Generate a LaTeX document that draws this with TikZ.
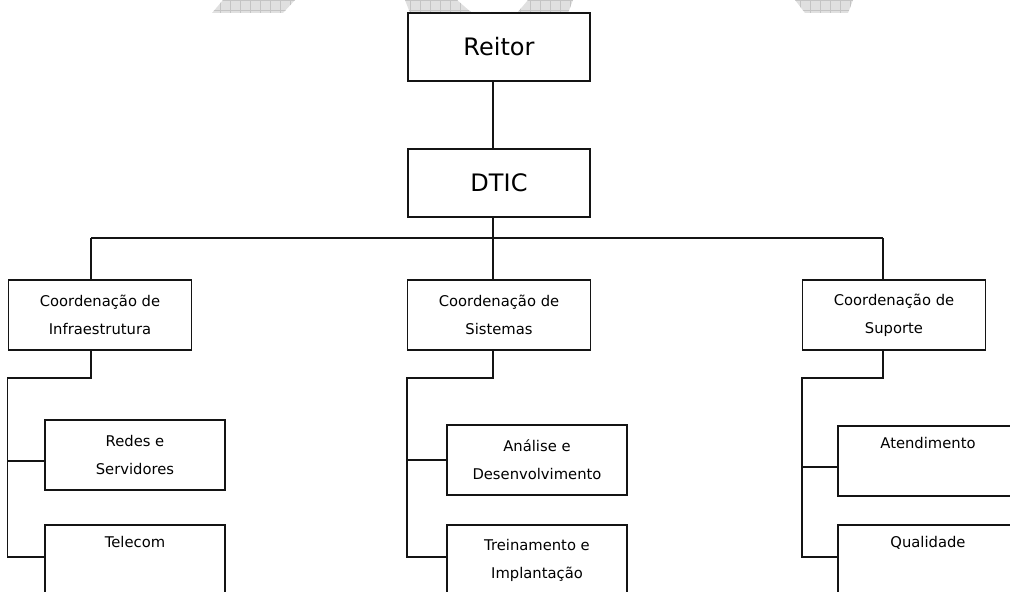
\documentclass[tikz,border=0pt]{standalone}
\usepackage{fontspec}
\setmainfont{DejaVu Sans}
\usepackage{tikz}
\usetikzlibrary{positioning, calc}
\definecolor{mydark}{RGB}{20,20,20}
\definecolor{mywater}{RGB}{224,224,224}
\definecolor{mygrid}{RGB}{196,196,196}
\tikzset{
  topbox/.style={rectangle, draw=mydark, line width=1.3pt, fill=white, minimum width=5.46cm, minimum height=2.04cm, inner sep=0pt, font=\fontsize{20.5}{24}\selectfont},
  coordbox/.style={rectangle, draw=mydark, line width=1.3pt, fill=white, minimum width=5.49cm, minimum height=2.1cm, inner sep=0pt, align=center, font=\fontsize{12.6}{24}\selectfont},
  leafbox/.style={coordbox, minimum width=5.4cm},
  line/.style={line width=1.3pt, color=mydark}
}

\begin{document}
\begin{tikzpicture}[x=0.03cm, y=-0.03cm]
  \useasboundingbox (0,0) rectangle (1010,592);
  \clip (0,0) rectangle (1010,592);

  % watermark bits at the top edge
  \begin{scope}
    \clip (212,13) -- (223,0) -- (295,0) -- (283,13) -- cycle
          (405,0) -- (457,0) -- (472,13) -- (410,13) -- cycle
          (528,0) -- (573,0) -- (568,13) -- (517,13) -- cycle
          (795,0) -- (853,0) -- (848,13) -- (805,13) -- cycle;
    \fill[mywater] (200,-5) rectangle (870,20);
    \draw[mygrid, line width=0.4pt, step=0.3cm] (200,-10) grid (870,20);
  \end{scope}

  % Top
  \node[topbox] (reitor) at (499,47) {Reitor};
  \node[topbox] (dtic) at (499,183) {DTIC};

  % Coordenações (y=315)
  \node[coordbox] (infra) at (100,315) {Coordenação de\\Infraestrutura};
  \node[coordbox] (sist) at (499,315) {Coordenação de\\Sistemas};
  \node[coordbox] (sup) at (894,315) {Coordenação de\\Suporte};

  % Leaves
  \node[leafbox] (redes) at (135,455) {Redes e\\Servidores};
  \node[leafbox] (telecom) at (135,560) {Telecom\\\strut};
  \node[leafbox] (analise) at (537,460) {Análise e\\Desenvolvimento};
  \node[leafbox] (treina) at (537,560) {Treinamento e\\Implantação};
  \node[leafbox] (atend) at (928,461) {Atendimento\\\strut};
  \node[leafbox] (qual) at (928,560) {Qualidade\\\strut};

  % bus
  \coordinate (busL) at (91,238);
  \coordinate (busM) at (493,238);
  \coordinate (busR) at (883,238);

  \draw[line] (reitor.south -| busM) -- (dtic.north -| busM);
  \draw[line] (dtic.south -| busM) -- (busM);
  \draw[line] (busL) -- (busR);
  \draw[line] (busL) -- (infra.north -| busL);
  \draw[line] (busM) -- (sist.north -| busM);
  \draw[line] (busR) -- (sup.north -| busR);

  % Infraestrutura
  \draw[line] (infra.south -| busL) -- ++(0,27) -| ([yshift=0.09cm]infra.west |- telecom.west) -- ([yshift=0.09cm]telecom.west);
  \draw[line] ([yshift=-0.18cm]infra.west |- redes.west) -- ([yshift=-0.18cm]redes.west);

  % Sistemas
  \draw[line] (sist.south -| busM) -- ++(0,27) -| ([yshift=0.09cm]sist.west |- treina.west) -- ([yshift=0.09cm]treina.west);
  \draw[line] (sist.west |- analise.west) -- (analise.west);

  % Suporte
  \draw[line] (sup.south -| busR) -- ++(0,27) -| ([yshift=0.09cm]sup.west |- qual.west) -- ([yshift=0.09cm]qual.west);
  \draw[line] ([yshift=-0.18cm]sup.west |- atend.west) -- ([yshift=-0.18cm]atend.west);
\end{tikzpicture}
\end{document}
